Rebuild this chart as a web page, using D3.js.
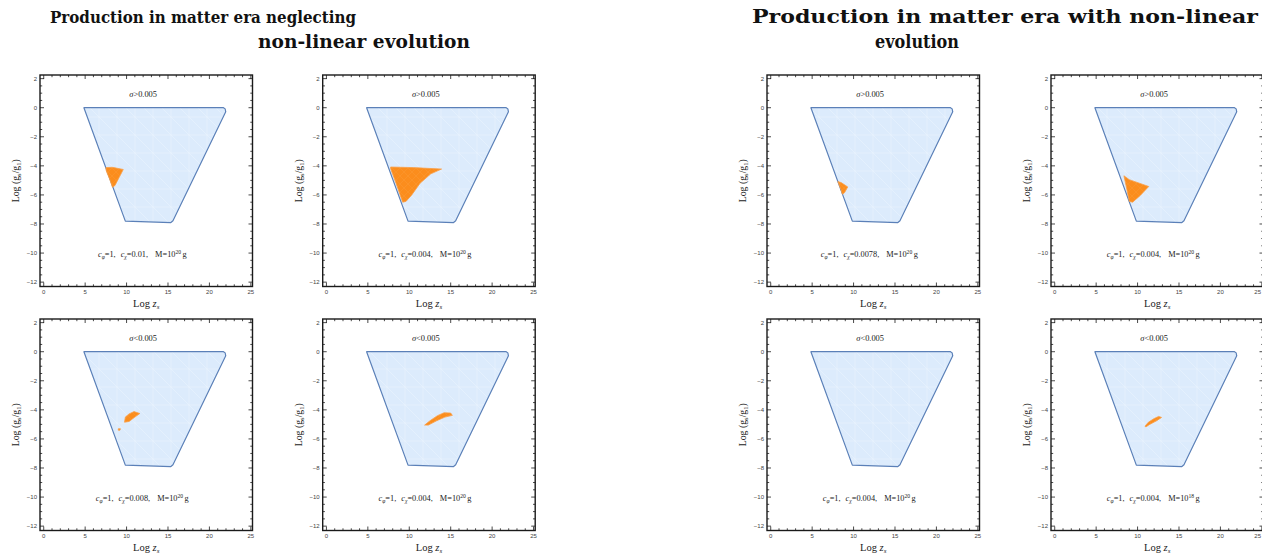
<!DOCTYPE html>
<html><head><meta charset="utf-8">
<script src="https://cdn.jsdelivr.net/npm/d3@7"></script>
<style>html,body{margin:0;padding:0;background:#fff;}svg{display:block;}</style>
</head><body>
<svg id="c" width="1262" height="555"></svg>
<script>
// ---------- data ----------
const titlesLeft = ["Production in matter era neglecting", "non-linear evolution"];
const titlesRight = ["Production in matter era with non-linear", "evolution"];
const xTicks = [0, 5, 10, 15, 20, 25];
const yTicks = [2, 0, -2, -4, -6, -8, -10, -12];
const xMinor = d3.range(0, 26, 1);
const yMinor = d3.range(-12, 2.01, 0.5);
const xDomain = [-0.45, 25.2];
const yDomain = [-12.3, 2.25];
// allowed region (same in all panels)
const allowed = [[4.85,0],[21.7,0],[21.9,-0.08],[21.97,-0.28],[15.6,-7.78],[15.35,-7.9],[9.85,-7.8]];
const sigmaLabel = [">", ">", "<", "<", ">", ">", "<", "<"];
const cChi = ["0.01", "0.004", "0.008", "0.004", "0.0078", "0.004", "0.004", "0.004"];
const massExp = ["20", "20", "20", "20", "20", "20", "20", "18"];
// orange (allowed production) regions per panel
const regions = [
  [[[7.5,-4.12],[8.3,-4.1],[9.6,-4.25],[9.1,-4.8],[8.6,-5.35],[8.3,-5.48],[7.95,-4.9],[7.55,-4.35]]],
  [[[7.75,-4.08],[10.5,-4.12],[13.9,-4.22],[12.6,-4.55],[11.3,-5.2],[10.3,-6.0],[9.6,-6.45],[9.2,-6.5],[8.4,-5.2],[7.75,-4.2]]],
  [[[9.75,-4.85],[9.85,-4.5],[10.3,-4.28],[10.9,-4.12],[11.6,-4.25],[11.0,-4.5],[10.3,-4.8]],
   [[9.0,-5.3],[9.25,-5.3],[9.2,-5.4],[9.0,-5.4]]],
  [[[11.85,-5.05],[12.5,-4.75],[13.4,-4.4],[14.2,-4.2],[15.0,-4.22],[15.2,-4.38],[14.3,-4.5],[13.3,-4.75],[12.3,-5.05]]],
  [[[8.1,-5.08],[8.5,-5.15],[9.3,-5.45],[8.9,-5.85],[8.65,-5.95],[8.45,-5.6]]],
  [[[8.35,-4.68],[9.0,-4.95],[11.35,-5.42],[10.3,-6.05],[9.4,-6.5],[9.0,-6.45],[8.7,-5.6]]],
  [],
  [[[10.9,-5.12],[11.3,-4.85],[12.0,-4.6],[12.55,-4.45],[12.9,-4.52],[12.3,-4.75],[11.4,-5.02],[11.0,-5.18]]]
];

// ---------- layout ----------
const panelX = [40, 322.7, 40, 322.7, 767, 1051, 767, 1051];
const panelY = [75, 75, 319, 319, 75, 75, 319, 319];
const PW = 212.5, PH = 211.5;
const W = 1262;

const svg = d3.select("#c");
const defs = svg.append("defs");
const pat = defs.append("pattern").attr("id","mesh").attr("patternUnits","userSpaceOnUse")
  .attr("width",18).attr("height",18);
pat.append("rect").attr("width",18).attr("height",18).attr("fill","#dcebfc");
pat.append("path").attr("d","M0 0L18 18M9 0L9 18M0 9L18 9")
  .attr("stroke","#fff").attr("stroke-width",0.5).attr("opacity",0.45);
const pat2 = defs.append("pattern").attr("id","mesh2").attr("patternUnits","userSpaceOnUse")
  .attr("width",8).attr("height",8);
pat2.append("rect").attr("width",8).attr("height",8).attr("fill","#fb8d1d");
pat2.append("path").attr("d","M0 0L8 8M8 0L0 8")
  .attr("stroke","#fdb56a").attr("stroke-width",0.4).attr("opacity",0.35);

// titles
function title(lines, xs, lens, ys, fs) {
  lines.forEach((t, i) => {
    svg.append("text").attr("x", xs[i]).attr("y", ys[i])
      .attr("font-family", "'DejaVu Serif', serif").attr("font-weight", "bold")
      .attr("font-size", fs[i]).attr("fill", "#111")
      .attr("textLength", lens[i]).attr("lengthAdjust", "spacingAndGlyphs")
      .text(t);
  });
}
title(titlesLeft, [50, 258], [306, 212], [23, 48], [17.5, 18]);
title(titlesRight, [752, 875], [506, 84], [23, 48], [18, 18]);

const line = d3.line();

for (let p = 0; p < 8; p++) {
  const x0 = panelX[p], y0 = panelY[p];
  const x = d3.scaleLinear().domain(xDomain).range([x0, x0 + PW]);
  const y = d3.scaleLinear().domain(yDomain).range([y0 + PH, y0]);
  const g = svg.append("g");
  const clipId = "clip" + p;
  defs.append("clipPath").attr("id", clipId).append("rect")
    .attr("x", x0).attr("y", y0).attr("width", PW).attr("height", PH);
  const inner = g.append("g").attr("clip-path", `url(#${clipId})`);

  line.x(d => x(d[0])).y(d => y(d[1]));
  inner.append("path").attr("d", line(allowed) + "Z")
    .attr("fill", "url(#mesh)").attr("stroke", "#5b80b8").attr("stroke-width", 1.2)
    .attr("stroke-linejoin", "round");
  regions[p].forEach(r => {
    inner.append("path").attr("d", line(r) + "Z")
      .attr("fill", "url(#mesh2)").attr("stroke", "#f9a04a").attr("stroke-width", 0.8)
      .attr("stroke-linejoin", "round");
  });

  // in-panel texts
  const st = inner.append("text").attr("x", x(12)).attr("y", y(0.72))
    .attr("text-anchor", "middle").attr("font-family", "'Liberation Serif', serif")
    .attr("font-size", 8.4).attr("fill", "#222");
  st.append("tspan").attr("font-style", "italic").text("σ");
  st.append("tspan").text(sigmaLabel[p] + "0.005");

  const ct = inner.append("text").attr("x", x(11.9)).attr("y", y(-10.3))
    .attr("text-anchor", "middle").attr("font-family", "'Liberation Serif', serif")
    .attr("font-size", 8.3).attr("fill", "#222");
  ct.append("tspan").attr("font-style", "italic").text("c");
  ct.append("tspan").attr("font-size", 5.6).attr("dy", 1.8).attr("font-style", "italic").text("φ");
  ct.append("tspan").attr("dy", -1.8).text("=1,");
  ct.append("tspan").attr("dx", 5).attr("font-style", "italic").text("c");
  ct.append("tspan").attr("font-size", 5.6).attr("dy", 1.8).attr("font-style", "italic").text("χ");
  ct.append("tspan").attr("dy", -1.8).text("=" + cChi[p] + ",");
  ct.append("tspan").attr("dx", 7).text("M=10");
  ct.append("tspan").attr("font-size", 5.6).attr("dy", -3).text(massExp[p]);
  ct.append("tspan").attr("dy", 3).attr("dx", 1.5).text("g");

  // frame + ticks
  g.append("rect").attr("x", x0).attr("y", y0).attr("width", PW).attr("height", PH)
    .attr("fill", "none").attr("stroke", "#1a1a1a").attr("stroke-width", 1.4);
  const tk = g.append("g").attr("stroke", "#1a1a1a").attr("stroke-width", 0.8);
  xMinor.forEach(v => {
    const L = (v % 5 === 0) ? 4 : 2.2;
    tk.append("line").attr("x1", x(v)).attr("x2", x(v)).attr("y1", y0 + PH).attr("y2", y0 + PH - L);
    tk.append("line").attr("x1", x(v)).attr("x2", x(v)).attr("y1", y0).attr("y2", y0 + L);
  });
  yMinor.forEach(v => {
    const L = (Math.abs(v % 2) < 1e-9) ? 4 : 2.2;
    tk.append("line").attr("y1", y(v)).attr("y2", y(v)).attr("x1", x0).attr("x2", x0 + L);
    tk.append("line").attr("y1", y(v)).attr("y2", y(v)).attr("x1", x0 + PW).attr("x2", x0 + PW - L);
  });
  xTicks.forEach(v => {
    const px = x(v);
    const atEdge = px + 4 > W;
    g.append("text").attr("x", atEdge ? W - 1 : px).attr("y", y0 + PH + 7.5)
      .attr("text-anchor", atEdge ? "end" : "middle")
      .attr("font-family", "'Liberation Sans', sans-serif").attr("font-size", 6).attr("fill", "#444")
      .text(v);
  });
  yTicks.forEach(v => {
    g.append("text").attr("x", x0 - 3).attr("y", y(v) + 2).attr("text-anchor", "end")
      .attr("font-family", "'Liberation Sans', sans-serif").attr("font-size", 6).attr("fill", "#444")
      .text(v < 0 ? "\u2212" + (-v) : v);
  });

  // axis labels
  const xl = g.append("text").attr("x", x0 + PW / 2).attr("y", y0 + PH + 20)
    .attr("text-anchor", "middle").attr("font-family", "'Liberation Serif', serif")
    .attr("font-size", 10.5).attr("fill", "#222");
  xl.append("tspan").text("Log ");
  xl.append("tspan").attr("font-style", "italic").text("z");
  xl.append("tspan").attr("font-size", 7).attr("dy", 2).attr("font-style", "italic").text("s");

  const cy = y0 + PH / 2;
  const yl = g.append("text").attr("transform", `translate(${x0 - 21},${cy}) rotate(-90)`)
    .attr("text-anchor", "middle").attr("font-family", "'Liberation Serif', serif")
    .attr("font-size", 9.8).attr("fill", "#222");
  yl.append("tspan").text("Log (g");
  yl.append("tspan").attr("font-size", 6.5).attr("dy", 2).text("s");
  yl.append("tspan").attr("dy", -2).text("/g");
  yl.append("tspan").attr("font-size", 6.5).attr("dy", 2).text("1");
  yl.append("tspan").attr("dy", -2).text(")");
}
</script>
</body></html>
